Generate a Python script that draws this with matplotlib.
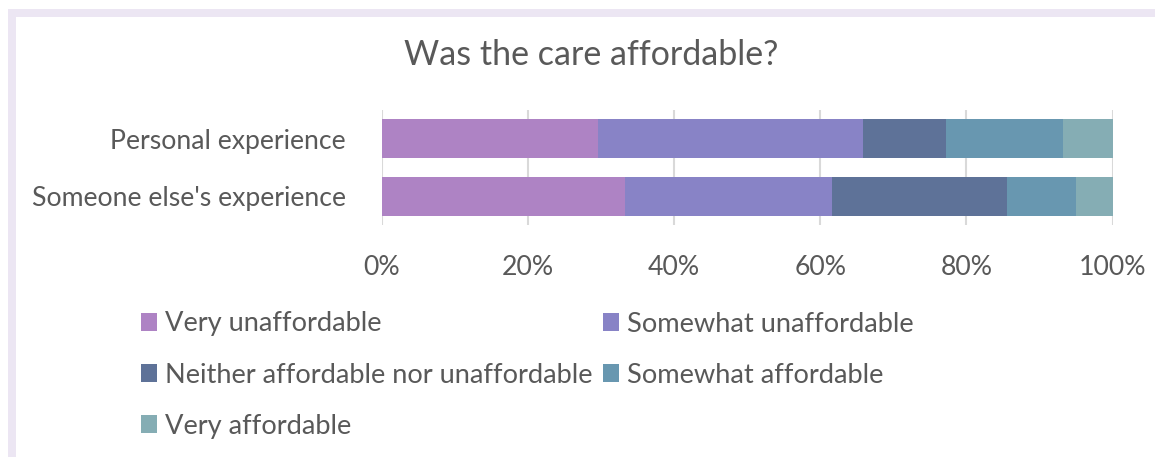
import matplotlib
matplotlib.use("Agg")
import matplotlib.pyplot as plt
from matplotlib.patches import Rectangle, Patch
from matplotlib.ticker import FuncFormatter
import numpy as np

# Survey responses (share of respondents, %)
categories = ["Personal experience", "Someone else's experience"]
levels = ["Very unaffordable", "Somewhat unaffordable",
          "Neither affordable nor unaffordable", "Somewhat affordable",
          "Very affordable"]
very_unaffordable = [29.6, 33.3]
somewhat_unaffordable = [36.2, 28.3]
neither = [11.4, 23.9]
somewhat_affordable = [16.0, 9.5]
very_affordable = [6.8, 5.0]
series = [very_unaffordable, somewhat_unaffordable, neither,
          somewhat_affordable, very_affordable]
colors = ["#AE83C4", "#8883C6", "#5E7298", "#6897B0", "#85ADB4"]
x_ticks = [0, 20, 40, 60, 80, 100]

W, H = 1155, 457
TEXT = "#595959"
FONT = "Lato"
plt.rcParams["font.family"] = [FONT, "DejaVu Sans"]

fig = plt.figure(figsize=(W / 100, H / 100), dpi=100)
fig.patch.set_facecolor("white")

# lavender frame along the top and left edges
frame = "#ECE6F3"
fig.add_artist(Rectangle((8 / W, 0), 8 / W, 1 - 9 / H, transform=fig.transFigure,
                         facecolor=frame, edgecolor="none"))
fig.add_artist(Rectangle((8 / W, 1 - 17 / H), 1 - 8 / W, 8 / H, transform=fig.transFigure,
                         facecolor=frame, edgecolor="none"))

# plot area
left, right, top, bottom = 381.7, 1112.5, 109.8, 225.4
ax = fig.add_axes([left / W, 1 - bottom / H, (right - left) / W, (bottom - top) / H])

y = np.arange(len(categories))
cum = np.zeros(len(categories))
for vals, col, lab in zip(series, colors, levels):
    ax.barh(y, vals, left=cum, height=0.67, color=col, label=lab, zorder=3)
    cum += np.array(vals)

ax.set_xlim(0, 100)
ax.set_ylim(len(categories) - 0.5, -0.5)
ax.set_yticks(y)
ax.set_yticklabels(categories)
ax.set_xticks(x_ticks)
ax.xaxis.set_major_formatter(FuncFormatter(lambda v, p: f"{v:.0f}%"))
ax.grid(axis="x", color="#D9D9D9", linewidth=1.5, zorder=0)
for s in ax.spines.values():
    s.set_visible(False)
ax.tick_params(axis="y", length=0, pad=26, labelsize=19.2, labelcolor=TEXT)
ax.tick_params(axis="x", length=0, pad=21.5, labelsize=19.2, labelcolor=TEXT)

fig.text(591.5 / W, 1 - 55 / H, "Was the care affordable?", ha="center", va="center",
         fontsize=24.5, color=TEXT)

# legend laid out in rows, two columns
handles = [Patch(facecolor=c, edgecolor="none") for c in colors]
order = [0, 2, 4, 1, 3]
leg = fig.legend([handles[i] for i in order], [levels[i] for i in order],
                 ncol=2, loc="upper left", bbox_to_anchor=(141 / W, 1 - 311.5 / H),
                 frameon=False, fontsize=19.6, handlelength=0.59, handleheight=0.62,
                 handletextpad=0.3, columnspacing=0.37, labelspacing=0.96,
                 borderpad=0, borderaxespad=0)
for t in leg.get_texts():
    t.set_color(TEXT)

fig.savefig("out.png", dpi=100, facecolor="white")
